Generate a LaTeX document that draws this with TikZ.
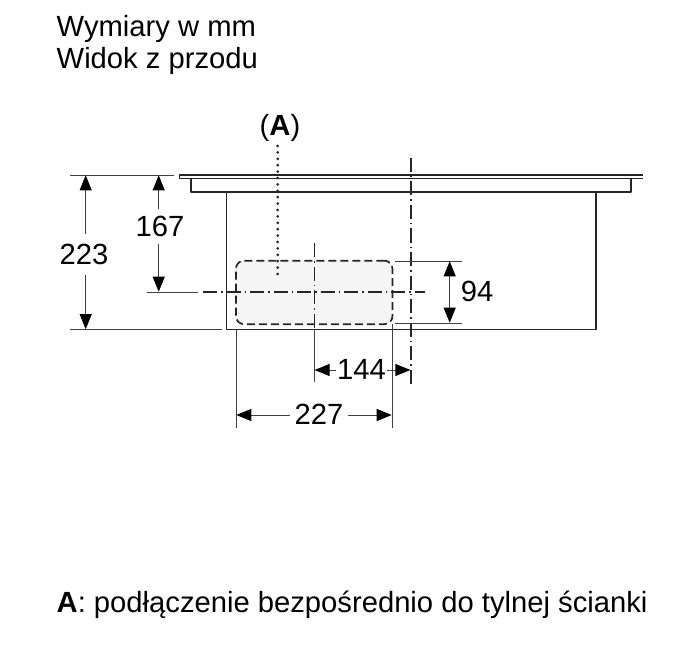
\documentclass[tikz,border=0pt]{standalone}
\usepackage{fontspec}
\setmainfont{Liberation Sans}
\usetikzlibrary{arrows.meta}
\tikzset{
  outline/.style={line width=1.7pt, black!85, line join=round},
  thinline/.style={line width=0.8pt, black!75},
  dimline/.style={line width=0.8pt, black!75, -{Triangle[length=15pt,width=12pt,black]}},
  dimboth/.style={line width=0.8pt, black!75, {Triangle[length=15pt,width=12pt,black]}-{Triangle[length=15pt,width=12pt,black]}},
  centerline/.style={line width=1.6pt, black!85, dash pattern=on 14pt off 4pt on 1.5pt off 4pt},
  dotline/.style={line width=3pt, black!85, line cap=round, dash pattern=on 0pt off 6.4pt},
  dimlabel/.style={inner sep=0pt, font=\fontsize{29.2}{29.2}\selectfont},
  txtlabel/.style={inner sep=0pt, anchor=base west, font=\fontsize{29.2}{29.2}\selectfont}
}
\begin{document}
\begin{tikzpicture}[x=1pt,y=-1pt]
      \useasboundingbox (0,0) rectangle (696,647);
      \node[txtlabel] (title1) at (56.5,36.5){Wymiary w mm};
      \node[txtlabel] (title2) at (56.5,69){Widok z przodu};
      \node[txtlabel] (note) at (56.5,612){\textbf{A}: podłączenie bezpośrednio do tylnej ścianki};
      \node[dimlabel] (lblA) at (280,127.5){(\textbf{A})};

      \node[draw, outline, dashed, dash pattern=on 8pt off 4pt, fill=black!4, rounded corners=8pt, inner sep=0pt, minimum width=156.5pt, minimum height=63.5pt] (port) at (314.2,292.4){};

      \coordinate (plateTL) at (179.5,175);
      \coordinate (plateTR) at (643,175);
      \coordinate (plateBL) at (179.5,178.6);
      \coordinate (plateBR) at (643,178.6);
      \coordinate (rimTL) at (191,178.6);
      \coordinate (rimBL) at (191,191.8);
      \coordinate (rimTR) at (631,178.6);
      \coordinate (rimBR) at (631,191.8);
      \coordinate (bodyTL) at (226.4,191.8);
      \coordinate (bodyBL) at (226.4,329.5);
      \coordinate (bodyTR) at (596,191.8);
      \coordinate (bodyBR) at (596,329.5);
      \draw[outline](plateBR) -- (plateBL) -- (plateTL) -- (plateTR);
      \draw[outline](rimTL) -- (rimBL) -- (rimBR) -- (rimTR);
      \draw[outline](bodyTL) -- (bodyBL) -- (bodyBR) -- (bodyTR);

      \coordinate (dotTop) at (277.7,146);
      \coordinate (dotEnd) at (277.7,280);
      \draw[dotline](dotTop) -- (dotEnd);

      \coordinate (hThin) at (146.7,292);
      \coordinate (hStart) at (198,292);
      \coordinate (hMid) at (203,292);
      \coordinate (hEnd) at (425,292);
      \coordinate (v1Top) at (314.3,243);
      \coordinate (v1End) at (314.3,329);
      \coordinate (v2Top) at (410.7,158);
      \coordinate (v2End) at (410.7,387);
      \draw[thinline](hThin) -- (hStart);
      \draw[centerline](hMid) -- (hEnd);
      \draw[centerline](v1Top) -- (v1End);
      \draw[centerline](v2Top) -- (v2End);

      % height dimensions
      \node[dimlabel, minimum height=41pt] (lbl223) at (84,254.5){223};
      \node[dimlabel, minimum height=34pt] (lbl167) at (160,226.5){167};
      \node[dimlabel] (lbl94) at (477,291){94};
      \coordinate (ext1a) at (70,175);
      \coordinate (ext1b) at (174,175);
      \coordinate (ext2a) at (70,329.5);
      \coordinate (ext2b) at (222,329.5);
      \coordinate (a223top) at (85.7,175.3);
      \coordinate (a223bot) at (85.7,329.2);
      \coordinate (a167top) at (158.7,175.3);
      \coordinate (a167bot) at (158.7,291.7);
      \draw[thinline](ext1a) -- (ext1b);
      \draw[thinline](ext2a) -- (ext2b);
      \draw[dimline](a223top |- lbl223.north) -- (a223top);
      \draw[dimline](a223bot |- lbl223.south) -- (a223bot);
      \draw[dimline](a167top |- lbl167.north) -- (a167top);
      \draw[dimline](a167bot |- lbl167.south) -- (a167bot);

      \coordinate (ext3a) at (395,261);
      \coordinate (ext3b) at (461.7,261);
      \coordinate (ext4a) at (395,323);
      \coordinate (ext4b) at (461.7,323);
      \coordinate (a94top) at (449.7,261.3);
      \coordinate (a94bot) at (449.7,322.7);
      \draw[thinline](ext3a) -- (ext3b);
      \draw[thinline](ext4a) -- (ext4b);
      \draw[dimboth](a94top) -- (a94bot);

      % width dimensions
      \node[dimlabel, minimum width=51pt] (lbl144) at (361.5,369){144};
      \node[dimlabel, minimum width=58pt] (lbl227) at (319,414){227};
      \coordinate (ext5a) at (236,329.5);
      \coordinate (ext5b) at (236,428);
      \coordinate (ext6a) at (392,324);
      \coordinate (ext6b) at (392,428);
      \coordinate (ext7a) at (314.3,329.5);
      \coordinate (ext7b) at (314.3,382);
      \coordinate (a144l) at (314.6,370);
      \coordinate (a144r) at (410.4,370);
      \coordinate (a227l) at (236.3,415);
      \coordinate (a227r) at (391.7,415);
      \draw[thinline](ext5a) -- (ext5b);
      \draw[thinline](ext6a) -- (ext6b);
      \draw[thinline](ext7a) -- (ext7b);
      \draw[dimline](lbl144.west |- a144l) -- (a144l);
      \draw[dimline](lbl144.east |- a144r) -- (a144r);
      \draw[dimline](lbl227.west |- a227l) -- (a227l);
      \draw[dimline](lbl227.east |- a227r) -- (a227r);

    \end{tikzpicture}
\end{document}
